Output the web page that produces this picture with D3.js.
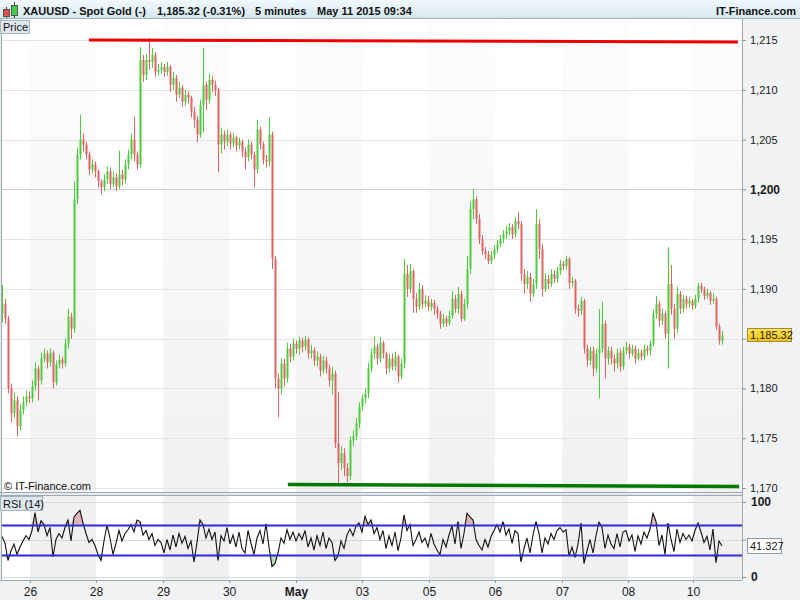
<!DOCTYPE html>
<html><head><meta charset="utf-8">
<script src="https://cdn.jsdelivr.net/npm/d3@7"></script>
<style>body{margin:0;background:#fff;} svg{display:block;font-family:"Liberation Sans",Arial,sans-serif;}</style>
</head><body><svg id="c" width="800" height="600"></svg>
<script>
// ---------- DATA (5-minute XAUUSD candles, sampled) ----------
const open=[
1187.5,1188.5,1187.0,1180.0,1177.5,1178.8,1176.2,1177.8,1178.6,1179.2,
1179.0,1180.2,1182.0,1180.8,1183.0,1183.5,1182.6,1183.6,1180.6,1182.4,
1182.9,1182.5,1184.5,1187.2,1186.0,1199.0,1203.5,1205.0,1204.5,1203.5,
1202.0,1202.5,1201.8,1200.8,1200.2,1201.0,1201.8,1200.5,1201.2,1200.3,
1201.5,1201.0,1202.5,1203.5,1205.0,1203.5,1202.5,1213.0,1211.5,1213.0,
1212.8,1213.5,1211.8,1212.0,1212.3,1211.8,1212.3,1210.5,1211.2,1209.5,
1210.2,1208.8,1209.5,1209.2,1207.8,1207.0,1205.5,1208.5,1210.5,1209.0,
1211.0,1210.5,1210.0,1204.5,1205.5,1204.8,1205.5,1204.6,1205.2,1204.4,
1204.8,1203.8,1203.2,1204.5,1203.5,1202.0,1206.0,1204.5,1203.0,1202.8,
1205.5,1193.0,1181.0,1180.0,1182.5,1181.0,1184.0,1183.2,1184.5,1184.0,
1184.8,1184.2,1184.9,1183.5,1183.8,1182.8,1183.2,1181.8,1182.8,1182.0,
1180.8,1181.5,1174.5,1172.5,1173.5,1172.0,1171.2,1174.8,1175.2,1176.5,
1178.2,1179.0,1179.5,1182.0,1183.5,1184.2,1183.0,1184.6,1183.5,1182.0,
1183.0,1182.2,1183.2,1181.2,1182.5,1191.5,1190.0,1191.8,1189.0,1188.2,
1190.0,1188.5,1188.8,1188.2,1188.6,1188.0,1187.5,1186.5,1187.0,1186.6,
1187.3,1189.0,1188.0,1189.5,1187.0,1188.5,1192.0,1198.0,1199.0,1197.0,
1195.0,1193.8,1193.5,1192.8,1193.4,1194.0,1194.5,1195.0,1195.5,1195.8,
1196.2,1195.5,1196.8,1196.5,1191.5,1190.5,1191.2,1189.5,1190.5,1196.5,
1194.0,1190.0,1191.0,1190.5,1191.5,1191.0,1191.8,1192.5,1192.3,1193.0,
1190.6,1190.8,1188.0,1187.8,1188.8,1184.0,1182.8,1183.8,1182.0,1183.5,
1184.0,1186.5,1183.0,1183.8,1183.0,1182.5,1183.6,1182.2,1183.8,1184.2,
1183.5,1184.0,1183.0,1183.6,1183.2,1184.0,1183.8,1184.5,1187.5,1188.5,
1186.8,1187.5,1185.5,1190.5,1188.0,1186.0,1189.5,1188.0,1189.0,1188.5,
1188.8,1188.3,1189.0,1190.3,1190.0,1189.3,1189.6,1188.8,1189.0,1186.2,
1184.8];
const high=[
1190.4,1189.0,1187.3,1180.5,1179.6,1179.2,1178.4,1179.2,1179.8,1179.7,
1180.8,1182.6,1182.3,1183.6,1184.0,1183.8,1184.0,1183.8,1182.8,1183.4,
1183.2,1185.0,1188.0,1187.6,1200.8,1204.2,1207.5,1205.6,1204.8,1203.8,
1203.0,1202.8,1202.0,1201.0,1201.5,1202.3,1202.2,1201.8,1201.6,1203.9,
1202.0,1203.0,1204.0,1205.6,1207.3,1203.8,1214.3,1213.5,1213.6,1215.2,
1214.2,1213.8,1212.6,1212.8,1212.6,1212.8,1212.5,1211.8,1211.5,1210.8,
1210.5,1210.0,1209.8,1209.4,1208.3,1207.4,1209.0,1214.2,1210.8,1211.6,
1211.4,1210.9,1210.2,1206.2,1205.9,1206.0,1205.8,1205.7,1205.4,1205.2,
1205.0,1204.2,1205.0,1204.8,1203.8,1207.0,1206.3,1204.8,1203.5,1207.2,
1205.8,1193.3,1181.5,1183.0,1183.0,1184.6,1184.5,1185.0,1184.8,1185.2,
1185.1,1185.3,1185.1,1184.4,1184.1,1183.7,1183.5,1183.3,1183.2,1182.4,
1182.2,1181.8,1179.6,1174.2,1174.0,1172.5,1175.2,1175.8,1177.0,1178.6,
1179.4,1180.0,1182.6,1184.0,1185.2,1184.5,1185.2,1184.8,1183.7,1183.5,
1183.5,1183.7,1183.4,1183.0,1193.0,1192.4,1192.5,1192.0,1189.6,1190.6,
1190.4,1189.4,1189.3,1189.0,1188.9,1188.3,1187.8,1187.5,1187.3,1187.8,
1189.8,1189.4,1190.2,1189.8,1189.0,1193.3,1198.8,1200.0,1199.3,1197.5,
1195.4,1194.2,1193.8,1193.8,1194.4,1194.9,1195.4,1195.9,1196.3,1196.6,
1196.5,1197.2,1197.7,1196.8,1192.0,1191.8,1191.6,1191.0,1198.0,1197.0,
1194.5,1191.6,1191.4,1192.0,1191.9,1192.2,1192.9,1192.8,1193.3,1193.2,
1191.2,1191.0,1188.4,1189.2,1189.0,1184.4,1184.2,1184.2,1184.0,1188.0,
1188.7,1186.8,1184.2,1184.2,1183.4,1184.0,1184.0,1184.2,1184.7,1184.5,
1184.4,1184.3,1184.0,1183.9,1184.4,1184.3,1184.8,1187.9,1189.3,1188.8,
1188.0,1187.8,1194.2,1192.4,1188.5,1190.2,1189.8,1189.4,1189.3,1189.2,
1189.0,1189.4,1190.6,1190.6,1190.2,1190.0,1189.8,1189.6,1189.2,1186.5,
1185.8];
const low=[
1186.6,1186.5,1179.5,1176.6,1177.0,1175.2,1175.8,1177.4,1178.2,1178.5,
1178.6,1179.8,1178.8,1180.4,1182.6,1182.0,1182.2,1180.0,1180.3,1182.0,
1182.0,1182.2,1184.0,1185.0,1185.6,1198.5,1203.0,1203.8,1203.0,1201.4,
1201.6,1201.2,1200.2,1199.5,1199.8,1200.6,1200.0,1200.2,1199.8,1200.0,
1200.4,1200.6,1202.0,1203.0,1202.8,1202.0,1202.2,1210.8,1211.0,1212.0,
1212.2,1211.3,1211.4,1211.6,1211.3,1211.4,1209.8,1210.0,1208.8,1209.2,
1208.3,1208.4,1208.6,1207.2,1206.2,1204.7,1205.2,1205.7,1208.0,1208.6,
1209.8,1209.4,1201.7,1203.6,1204.0,1204.3,1204.0,1204.2,1203.8,1204.0,
1203.2,1202.0,1202.8,1203.0,1200.2,1201.6,1204.0,1202.5,1202.2,1202.3,
1192.0,1180.0,1177.1,1179.4,1180.2,1180.6,1182.6,1182.8,1183.5,1183.4,
1183.6,1183.8,1183.0,1183.0,1182.3,1182.2,1181.2,1181.5,1181.5,1180.2,
1179.4,1174.0,1170.2,1171.8,1171.2,1170.6,1170.8,1174.2,1174.8,1176.0,
1177.8,1178.5,1179.0,1181.6,1183.0,1182.4,1182.6,1183.0,1181.4,1181.6,
1181.8,1181.8,1180.6,1180.9,1182.0,1189.2,1189.6,1187.6,1187.6,1187.9,
1188.0,1188.2,1187.8,1187.8,1187.4,1187.0,1186.0,1186.2,1186.2,1186.3,
1187.0,1187.6,1187.5,1186.7,1186.8,1188.0,1191.5,1197.0,1196.5,1194.5,
1193.4,1193.0,1192.5,1192.5,1193.0,1193.6,1194.2,1194.6,1195.0,1195.4,
1195.0,1195.2,1196.0,1190.8,1189.5,1190.0,1188.7,1189.2,1190.0,1193.0,
1189.2,1189.7,1190.0,1190.2,1190.6,1190.6,1191.4,1191.9,1191.9,1190.0,
1190.2,1187.5,1187.2,1187.4,1183.5,1182.2,1182.4,1181.2,1181.6,1179.0,
1183.6,1181.0,1182.4,1182.4,1181.7,1182.0,1181.7,1181.9,1183.4,1183.0,
1183.2,1182.5,1182.8,1182.8,1182.9,1183.3,1183.3,1184.2,1187.0,1186.2,
1186.4,1185.0,1182.0,1187.4,1185.0,1185.6,1187.5,1187.6,1188.0,1188.1,
1187.9,1188.0,1188.6,1189.6,1188.9,1189.0,1188.4,1188.5,1185.9,1184.4,
1184.4];
const close=[
1188.5,1187.0,1180.0,1177.5,1178.8,1176.2,1177.8,1178.6,1179.2,1179.0,
1180.2,1182.0,1180.8,1183.0,1183.5,1182.6,1183.6,1180.6,1182.4,1182.9,
1182.5,1184.5,1187.2,1186.0,1199.0,1203.5,1205.0,1204.5,1203.5,1202.0,
1202.5,1201.8,1200.8,1200.2,1201.0,1201.8,1200.5,1201.2,1200.3,1201.5,
1201.0,1202.5,1203.5,1205.0,1203.5,1202.5,1213.0,1211.5,1213.0,1212.8,
1213.5,1211.8,1212.0,1212.3,1211.8,1212.3,1210.5,1211.2,1209.5,1210.2,
1208.8,1209.5,1209.2,1207.8,1207.0,1205.5,1208.5,1210.5,1209.0,1211.0,
1210.5,1210.0,1204.5,1205.5,1204.8,1205.5,1204.6,1205.2,1204.4,1204.8,
1203.8,1203.2,1204.5,1203.5,1202.0,1206.0,1204.5,1203.0,1202.8,1205.5,
1193.0,1181.0,1180.0,1182.5,1181.0,1184.0,1183.2,1184.5,1184.0,1184.8,
1184.2,1184.9,1183.5,1183.8,1182.8,1183.2,1181.8,1182.8,1182.0,1180.8,
1181.5,1174.5,1172.5,1173.5,1172.0,1171.2,1174.8,1175.2,1176.5,1178.2,
1179.0,1179.5,1182.0,1183.5,1184.2,1183.0,1184.6,1183.5,1182.0,1183.0,
1182.2,1183.2,1181.2,1182.5,1191.5,1190.0,1191.8,1189.0,1188.2,1190.0,
1188.5,1188.8,1188.2,1188.6,1188.0,1187.5,1186.5,1187.0,1186.6,1187.3,
1189.0,1188.0,1189.5,1187.0,1188.5,1192.0,1198.0,1199.0,1197.0,1195.0,
1193.8,1193.5,1192.8,1193.4,1194.0,1194.5,1195.0,1195.5,1195.8,1196.2,
1195.5,1196.8,1196.5,1191.5,1190.5,1191.2,1189.5,1190.5,1196.5,1194.0,
1190.0,1191.0,1190.5,1191.5,1191.0,1191.8,1192.5,1192.3,1193.0,1190.6,
1190.8,1188.0,1187.8,1188.8,1184.0,1182.8,1183.8,1182.0,1183.5,1184.0,
1186.5,1183.0,1183.8,1183.0,1182.5,1183.6,1182.2,1183.8,1184.2,1183.5,
1184.0,1183.0,1183.6,1183.2,1184.0,1183.8,1184.5,1187.5,1188.5,1186.8,
1187.5,1185.5,1190.5,1188.0,1186.0,1189.5,1188.0,1189.0,1188.5,1188.8,
1188.3,1189.0,1190.3,1190.0,1189.3,1189.6,1188.8,1189.0,1186.2,1184.8,
1185.32];
const rsi=[
54,45,22,35,44,30,40,48,55,50,
62,86,60,75,70,55,66,27,50,58,
52,66,76,48,80,85,89,72,58,46,
50,42,30,22,48,69,52,30,45,62,
48,58,63,70,60,76,74,56,62,50,
58,42,50,46,32,50,36,56,40,58,
45,54,38,48,20,46,76,70,52,64,
50,60,22,55,48,66,44,56,40,60,
38,32,62,45,30,52,62,44,71,40,
14,18,32,52,45,63,50,60,48,58,
50,62,40,52,36,55,42,60,38,52,
46,22,28,48,38,56,64,55,68,72,
60,81,70,76,58,66,50,62,38,55,
42,60,35,52,83,62,70,42,50,60,
46,52,40,58,44,36,30,50,40,56,
68,44,74,38,58,85,80,76,50,42,
36,50,40,54,62,70,60,74,56,64,
45,62,58,20,38,52,32,56,74,58,
32,52,44,58,50,62,66,60,63,28,
40,26,44,72,18,35,50,32,55,73,
66,38,56,44,38,58,40,60,62,48,
56,34,55,44,60,52,64,85,74,42,
56,30,72,50,34,64,46,58,50,56,
48,62,72,60,46,54,36,64,19,48,
41.327];
const priceTicks=[1170,1175,1180,1185,1190,1195,1200,1205,1210,1215];
const rsiTicks=[0,50,100];
const rsiLevels=[30,70];
const dayStarts=[9.3,31.3,53.7,75.7,98,120,142.3,164.3,186.7,208.7,230.3];
const dayLabels=["26","28","29","30","May","03","05","06","07","08","10"];
const redLineIdx=[29,245.3], redLinePrice=[1215.0,1214.8];
const greenLineIdx=[95.3,245.7], greenLinePrice=[1170.35,1170.15];
const lastPrice=1185.32, lastRsi=41.327;

// ---------- LAYOUT ----------
const svg=d3.select("#c");
const L=2,R=742,PT=19,PB=492,RT=495,RB=580;
const x=d3.scaleLinear().domain([0,240]).range([2,722]);
const y=d3.scaleLinear().domain([1170,1215]).range([488,40]);
const yr=d3.scaleLinear().domain([0,100]).range([577,502]);
const UP="#4ccb3e", DN="#e06262";

const defs=svg.append("defs");
const hg=defs.append("linearGradient").attr("id","hdr").attr("x1",0).attr("y1",0).attr("x2",0).attr("y2",1);
hg.append("stop").attr("offset",0).attr("stop-color","#f2f9fc");
hg.append("stop").attr("offset",1).attr("stop-color","#d3e7f0");
const bg=defs.append("linearGradient").attr("id","band").attr("x1",0).attr("y1",0).attr("x2",0).attr("y2",1);
bg.append("stop").attr("offset",0).attr("stop-color","#fdfdfd");
bg.append("stop").attr("offset",1).attr("stop-color","#f1f1f1");
const yg=defs.append("linearGradient").attr("id","yel").attr("x1",0).attr("y1",0).attr("x2",0).attr("y2",1);
yg.append("stop").attr("offset",0).attr("stop-color","#ffe45a");
yg.append("stop").attr("offset",1).attr("stop-color","#f2c200");
defs.append("clipPath").attr("id","cp").append("rect").attr("x",L).attr("y",PT).attr("width",R-L).attr("height",PB-PT);
defs.append("clipPath").attr("id","cr").append("rect").attr("x",L).attr("y",RT).attr("width",R-L).attr("height",RB-RT);

// frame
svg.append("rect").attr("width",800).attr("height",600).attr("fill","#e6eaed");
svg.append("rect").attr("x",R).attr("y",PT).attr("width",800-R).attr("height",600-PT).attr("fill","#f0f2f4");
svg.append("rect").attr("x",0).attr("y",RB).attr("width",R).attr("height",600-RB).attr("fill","#f0f2f4");
svg.append("rect").attr("x",L).attr("y",PT).attr("width",R-L).attr("height",PB-PT).attr("fill","#fff");
svg.append("rect").attr("x",L).attr("y",RT).attr("width",R-L).attr("height",RB-RT).attr("fill","#fff");

// day bands
const bands=dayStarts.map((d,k)=>({a:d,b:k+1<dayStarts.length?dayStarts[k+1]:null,k})).filter(o=>o.k%2===0);
svg.append("g").selectAll("rect").data(bands).join("rect")
  .attr("x",d=>x(d.a)).attr("width",d=>(d.b===null?R:x(d.b))-x(d.a))
  .attr("y",PT).attr("height",PB-PT).attr("fill","url(#band)");
svg.append("g").selectAll("rect").data(bands).join("rect")
  .attr("x",d=>x(d.a)).attr("width",d=>(d.b===null?R:x(d.b))-x(d.a))
  .attr("y",RT).attr("height",RB-RT).attr("fill","#f0f0f0");

// price grid
svg.append("g").selectAll("line").data(priceTicks).join("line")
  .attr("x1",L).attr("x2",R).attr("y1",d=>Math.round(y(d))+0.5).attr("y2",d=>Math.round(y(d))+0.5)
  .attr("stroke",d=>d===1200?"#cfcfcf":"#e4e4e4");
// rsi grid
svg.append("g").selectAll("line").data(rsiTicks).join("line")
  .attr("x1",L).attr("x2",R).attr("y1",d=>Math.round(yr(d))+0.5).attr("y2",d=>Math.round(yr(d))+0.5)
  .attr("stroke","#d8d8d8");

// candles
const idx=d3.range(close.length);
const cg=svg.append("g").attr("clip-path","url(#cp)");
cg.selectAll("line").data(idx).join("line")
  .attr("x1",i=>Math.round(x(i))+0.5).attr("x2",i=>Math.round(x(i))+0.5)
  .attr("y1",i=>y(high[i])).attr("y2",i=>y(low[i]))
  .attr("stroke",i=>close[i]>=open[i]?UP:DN).attr("stroke-width",1);
cg.selectAll("rect").data(idx).join("rect")
  .attr("x",i=>Math.round(x(i))-0.5).attr("width",2)
  .attr("y",i=>y(Math.max(open[i],close[i])))
  .attr("height",i=>Math.max(1,Math.abs(y(open[i])-y(close[i]))))
  .attr("fill",i=>close[i]>=open[i]?UP:DN);

// trend lines
cg.append("line").attr("x1",x(redLineIdx[0])).attr("x2",x(redLineIdx[1]))
  .attr("y1",y(redLinePrice[0])).attr("y2",y(redLinePrice[1]))
  .attr("stroke","#ee0000").attr("stroke-width",3);
cg.append("line").attr("x1",x(greenLineIdx[0])).attr("x2",x(greenLineIdx[1]))
  .attr("y1",y(greenLinePrice[0])).attr("y2",y(greenLinePrice[1]))
  .attr("stroke","#007a00").attr("stroke-width",3.5);

// RSI
const rg=svg.append("g").attr("clip-path","url(#cr)");
rg.append("path").datum(rsi).attr("fill","rgba(200,110,110,0.45)")
  .attr("d",d3.area().x((d,i)=>x(i)).y0(yr(70)).y1(d=>yr(Math.max(d,70))));
rg.append("path").datum(rsi).attr("fill","rgba(110,180,110,0.45)")
  .attr("d",d3.area().x((d,i)=>x(i)).y0(yr(30)).y1(d=>yr(Math.min(d,30))));
rg.append("path").datum(rsi).attr("fill","none").attr("stroke","#111").attr("stroke-width",1.1)
  .attr("d",d3.line().x((d,i)=>x(i)).y(d=>yr(d)));
// overbought / oversold levels (drawn over the line, as in the reference)
svg.append("g").selectAll("rect").data(rsiLevels).join("rect")
  .attr("x",L).attr("width",R-L).attr("y",d=>Math.round(yr(d))-0.5).attr("height",2)
  .attr("fill","#2b2bd9");

// panel borders
const bc="#9eaab2";
svg.append("line").attr("x1",R+0.5).attr("x2",R+0.5).attr("y1",PT).attr("y2",RB).attr("stroke",bc);
svg.append("line").attr("x1",1.5).attr("x2",1.5).attr("y1",PT).attr("y2",RB).attr("stroke",bc);
svg.append("line").attr("x1",0).attr("x2",R).attr("y1",PB+0.5).attr("y2",PB+0.5).attr("stroke",bc);
svg.append("line").attr("x1",0).attr("x2",R).attr("y1",RT+0.5).attr("y2",RT+0.5).attr("stroke",bc);
svg.append("line").attr("x1",0).attr("x2",R).attr("y1",RB+0.5).attr("y2",RB+0.5).attr("stroke",bc);

// price axis (the 1,185 label sits under the last-price box, as in the reference)
const pa=svg.append("g").attr("transform",`translate(${R},0)`)
  .call(d3.axisRight(y).tickValues(priceTicks).tickSize(4).tickPadding(4)
    .tickFormat(d=>d===1185?"":d3.format(",")(d)));
pa.select(".domain").remove();
pa.selectAll("line").attr("stroke","#8a969e");
pa.selectAll("text").attr("fill","#1a1a1a").attr("font-family","Liberation Sans, Arial")
  .attr("font-weight",d=>d===1200?"bold":"normal").style("font-size",d=>d===1200?"12px":"11px");

// rsi axis (50 hidden under the RSI value box)
const ra=svg.append("g").attr("transform",`translate(${R},0)`)
  .call(d3.axisRight(yr).tickValues(rsiTicks).tickSize(4).tickPadding(5)
    .tickFormat(d=>d===50?"":d3.format("d")(d)));
ra.select(".domain").remove();
ra.selectAll("line").attr("stroke","#8a969e");
ra.selectAll("text").attr("fill","#1a1a1a").attr("font-family","Liberation Sans, Arial")
  .attr("font-weight","bold").style("font-size","12px");

// x axis
const xa=svg.append("g").attr("transform",`translate(0,${RB})`)
  .call(d3.axisBottom(x).tickValues(dayStarts).tickSize(3).tickPadding(4).tickFormat((d,i)=>dayLabels[i]));
xa.select(".domain").remove();
xa.selectAll("line").attr("stroke","#8a969e");
xa.selectAll("text").attr("fill","#1a1a1a").attr("font-family","Liberation Sans, Arial")
  .style("font-size","12px").attr("font-weight",(d,i)=>dayLabels[i]==="May"?"bold":"normal");

// last price box
const ly=y(lastPrice);
svg.append("rect").attr("x",747.5).attr("y",Math.round(ly)-6.5).attr("width",44).attr("height",13)
  .attr("fill","url(#yel)").attr("stroke","#a08c3c");
svg.append("text").attr("x",750).attr("y",ly+4).attr("font-size",11).attr("fill","#1a1a1a").text(d3.format(",.2f")(lastPrice));
// last rsi box
const lr=yr(lastRsi);
svg.append("rect").attr("x",747.5).attr("y",Math.round(lr)-7.5).attr("width",34).attr("height",15)
  .attr("fill","#fff").attr("stroke","#8d9aa3");
svg.append("text").attr("x",750).attr("y",lr+4).attr("font-size",11).attr("fill","#1a1a1a").text(lastRsi);

// header
svg.append("rect").attr("x",0).attr("y",0).attr("width",800).attr("height",PT).attr("fill","url(#hdr)");
svg.append("line").attr("x1",0).attr("x2",800).attr("y1",PT-0.5).attr("y2",PT-0.5).attr("stroke","#9fb0ba");
// icon
svg.append("line").attr("x1",6.5).attr("x2",6.5).attr("y1",7).attr("y2",18).attr("stroke","#444");
svg.append("rect").attr("x",3.5).attr("y",9.5).attr("width",6).attr("height",7).attr("fill","#e05050").attr("stroke","#555");
svg.append("line").attr("x1",14.5).attr("x2",14.5).attr("y1",2).attr("y2",18).attr("stroke","#444");
svg.append("rect").attr("x",11.5).attr("y",5.5).attr("width",6).attr("height",10).attr("fill","#44cc44").attr("stroke","#555");
const ht=svg.append("g").attr("font-size",11).attr("font-weight","bold").attr("fill","#111");
ht.append("text").attr("x",23).attr("y",15).text("XAUUSD - Spot Gold (-)");
ht.append("text").attr("x",157).attr("y",15).text("1,185.32 (-0.31%)");
ht.append("text").attr("x",255).attr("y",15).text("5 minutes");
ht.append("text").attr("x",317).attr("y",15).text("May 11 2015 09:34");
ht.append("text").attr("x",796).attr("y",15).attr("text-anchor","end").text("IT-Finance.com");

// panel labels
svg.append("rect").attr("x",0.5).attr("y",20.5).attr("width",29).attr("height",13).attr("fill","#dde7ed").attr("stroke","#a6b4bc");
svg.append("text").attr("x",3).attr("y",31).attr("font-size",11).attr("fill","#111").text("Price");
svg.append("rect").attr("x",0.5).attr("y",496.5).attr("width",42).attr("height",14).attr("fill","#dde7ed").attr("stroke","#a6b4bc");
svg.append("text").attr("x",3).attr("y",507.5).attr("font-size",11).attr("fill","#111").text("RSI (14)");
svg.append("text").attr("x",4).attr("y",490).attr("font-size",11).attr("fill","#111").text("© IT-Finance.com");
</script></body></html>
